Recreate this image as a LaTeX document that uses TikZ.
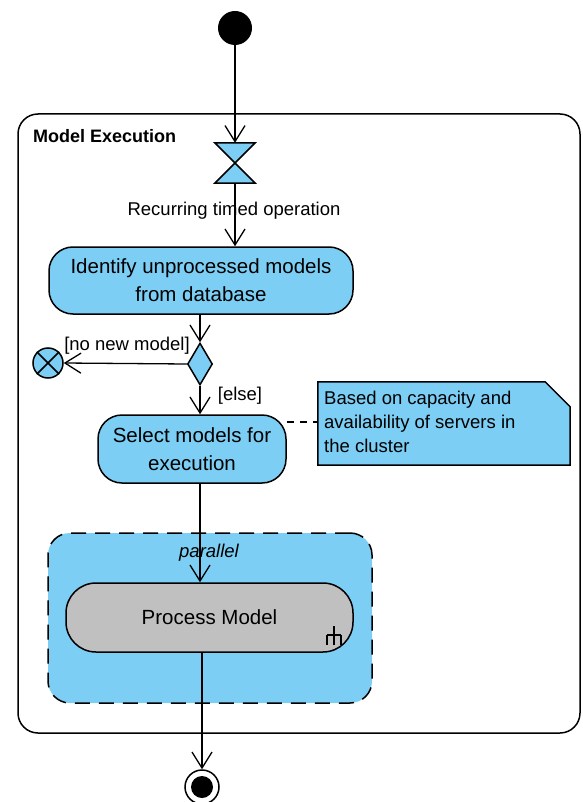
\documentclass[tikz,border=0pt]{standalone}
\usepackage{fontspec}
\setmainfont{Liberation Sans}
\usetikzlibrary{arrows.meta,shapes.geometric}
\definecolor{umlblue}{RGB}{124,206,244}
\definecolor{umlgray}{RGB}{192,192,192}
\tikzset{
  >={Straight Barb[length=16pt,width=20pt]},
  flow/.style={draw=black,line width=1.3pt,->},
  action/.style={draw=black,line width=1.5pt,fill=umlblue,rounded corners=24pt,inner sep=0pt,align=center,font=\fontsize{20.5}{28}\selectfont},
  lbl/.style={inner sep=0pt,font=\fontsize{18.5}{24}\selectfont},
}
\begin{document}
\begin{tikzpicture}[x=1pt,y=-1pt]
\useasboundingbox (0,0) rectangle (582,802);
% frame
\node[draw=black,line width=1.5pt,rounded corners=20pt,minimum width=562pt,minimum height=619pt,inner sep=0pt] (frame) at (299,423.5) {};
\node[lbl,anchor=west,font=\fontsize{18}{24}\selectfont\bfseries] (title) at (33,136) {Model Execution};
% initial node
\node[circle,fill=black,minimum size=34pt,inner sep=0pt] (init) at (235,28) {};
% timer (hourglass)
\node[minimum width=40pt,minimum height=40pt,inner sep=0pt] (timer) at (235,163) {};
\draw[line width=1.5pt,fill=umlblue,line join=miter] (timer.north west) -- (timer.north east) -- (timer.center) -- cycle;
\draw[line width=1.5pt,fill=umlblue,line join=miter] (timer.south west) -- (timer.south east) -- (timer.center) -- cycle;
\node[lbl] (timerlbl) at (234,211) {Recurring timed operation};
% actions
\node[action,minimum width=304pt,minimum height=67pt] (ident) at (201,280.5) {Identify unprocessed models\\from database};
\node[diamond,draw=black,line width=1.5pt,fill=umlblue,minimum width=25pt,minimum height=42pt,inner sep=0pt] (dec) at (200,364) {};
\node[circle,draw=black,line width=1.5pt,fill=umlblue,minimum size=30pt,inner sep=0pt] (ff) at (48,363) {};
\draw[line width=1.5pt] (ff.north west) -- (ff.south east) (ff.north east) -- (ff.south west);
\node[action,minimum width=188pt,minimum height=68pt] (sel) at (192,449) {Select models for\\execution};
% note
\node[minimum width=252pt,minimum height=83pt,inner sep=0pt] (note) at (444,423.5) {};
\draw[line width=1.5pt,fill=umlblue,line join=miter] (note.north west) -- ([xshift=-25pt]note.north east) -- ([yshift=-25pt]note.north east) -- (note.south east) -- (note.south west) -- cycle;
\node[lbl,anchor=west,align=left] (notetext) at (324,422) {Based on capacity and\\availability of servers in\\the cluster};
\draw[line width=1.3pt,dash pattern=on 7pt off 6pt] (sel.east |- notetext.west) -- (note.west |- notetext.west);
% expansion region
\node[draw=black,line width=1.5pt,dash pattern=on 15pt off 9pt,fill=umlblue,rounded corners=22pt,minimum width=324pt,minimum height=170pt,inner sep=0pt] (region) at (210,618) {};
\node[lbl,font=\fontsize{18.5}{24}\selectfont\itshape] (par) at (209,553) {parallel};
\node[action,fill=umlgray,rounded corners=30pt,minimum width=287pt,minimum height=69pt] (proc) at (209.5,617.5) {Process Model};
\coordinate (rk) at (334,635);
\draw[line width=1.2pt] ([yshift=9pt]rk) -- ([yshift=-10pt]rk) ([xshift=-7pt]rk) -- ([xshift=7pt]rk) ([xshift=-7pt]rk) -- ([xshift=-7pt,yshift=-10pt]rk) ([xshift=7pt]rk) -- ([xshift=7pt,yshift=-10pt]rk);
% final node
\node[circle,draw=black,line width=1.5pt,fill=white,minimum size=34pt,inner sep=0pt] (final) at (202,787) {};
\node[circle,fill=black,minimum size=22pt,inner sep=0pt] (finalin) at (202,787) {};
% flows
\draw[flow] (init.south) -- (timer.north);
\draw[flow] (timer.south) -- (timer.south |- ident.north);
\draw[flow] (dec.north |- ident.south) -- (dec.north);
\draw[flow] (dec.west) -- (ff.east);
\node[lbl] (nonew) at (127,346) {[no new model]};
\draw[flow] (dec.south) -- (dec.south |- sel.north);
\node[lbl] (else) at (240,396) {[else]};
\draw[flow] (dec.south |- sel.south) -- (dec.south |- proc.north);
\draw[flow] (final.north |- proc.south) -- (final.north);
\end{tikzpicture}
\end{document}
